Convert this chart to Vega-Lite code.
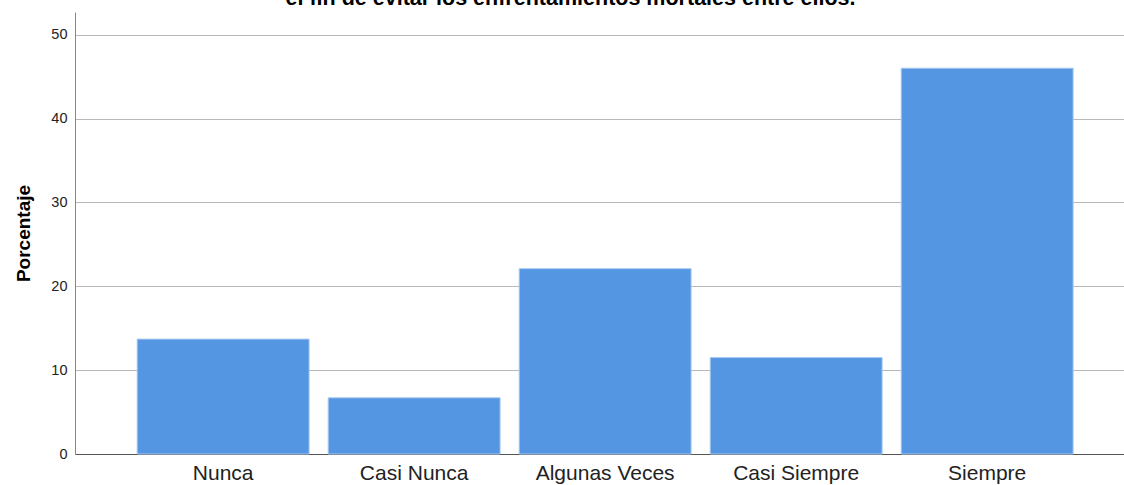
{
  "$schema": "https://vega.github.io/schema/vega-lite/v6.json",
  "autosize": {"type": "none"},
  "padding": {"left": 75, "top": 12, "right": 0, "bottom": 31},
  "width": 1049,
  "height": 442,
  "background": "white",
  "title": {
    "text": "el fin de evitar los enfrentamientos mortales entre ellos.",
    "font": "Liberation Sans",
    "fontSize": 21.5,
    "fontWeight": "bold",
    "color": "#000000",
    "anchor": "middle",
    "frame": "group",
    "baseline": "alphabetic",
    "offset": 0,
    "dy": 14,
    "dx": -29
  },
  "data": {
    "values": [
      {"categoria": "Nunca", "porcentaje": 13.7},
      {"categoria": "Casi Nunca", "porcentaje": 6.7},
      {"categoria": "Algunas Veces", "porcentaje": 22.1},
      {"categoria": "Casi Siempre", "porcentaje": 11.5},
      {"categoria": "Siempre", "porcentaje": 46.0}
    ]
  },
  "config": {
    "view": {"stroke": null},
    "font": "Liberation Sans"
  },
  "mark": {"type": "bar", "color": "#5596e3", "stroke": "#a9c9f0", "strokeWidth": 1},
  "encoding": {
    "x": {
      "field": "categoria",
      "type": "nominal",
      "sort": null,
      "scale": {"paddingInner": 0.1, "paddingOuter": 0.296, "align": 0.55},
      "axis": {
        "title": null,
        "labelAngle": 0,
        "labelFontSize": 21,
        "labelColor": "#222222",
        "labelPadding": 8,
        "ticks": false,
        "domainColor": "#555555",
        "domainWidth": 1,
        "grid": false
      }
    },
    "y": {
      "field": "porcentaje",
      "type": "quantitative",
      "scale": {"domain": [0, 52.7], "nice": false},
      "axis": {
        "title": "Porcentaje",
        "titleFontSize": 19,
        "titleFontWeight": "bold",
        "titleColor": "#000000",
        "titlePadding": 17,
        "values": [0, 10, 20, 30, 40, 50],
        "labelFontSize": 14.5,
        "labelColor": "#222222",
        "labelPadding": 8,
        "ticks": false,
        "domainColor": "#888888",
        "grid": true,
        "gridColor": "#b8b8b8",
        "gridWidth": 1
      }
    }
  }
}
